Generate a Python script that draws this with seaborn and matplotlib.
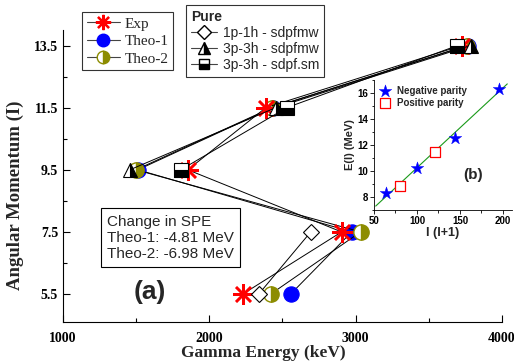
import numpy as np
import matplotlib
matplotlib.use("Agg")
import matplotlib.pyplot as plt
import seaborn as sns
from matplotlib.lines import Line2D
from matplotlib.ticker import MultipleLocator, FixedLocator

# Level spins and gamma energies (keV)
spin = [5.5, 7.5, 9.5, 11.5, 13.5]
exp_e = [2229, 2904, 1853, 2386, 3724]
theo1_e = [2556, 2973, 1512, 2433, 3765]
theo2_e = [2420, 3034, 1498, 2427, 3758]

spin_1p1h = [5.5, 7.5]
pure_1p1h = [2338, 2693]
spin_3p3h = [9.5, 11.5, 13.5]
pure_3p3h_mw = [1457, 2454, 3785]
pure_3p3h_sm = [1805, 2529, 3696]

# inset: E(I) vs I(I+1)
neg_x = [63.75, 99.75, 143.75, 195.75]
neg_y = [8.3, 10.23, 12.55, 16.3]
pos_x = [80.75, 120.75]
pos_y = [8.85, 11.46]
fit_x = [52, 205]
fit_y = [7.3, 16.7]

sns.set_theme(style="ticks")
plt.rcParams["font.family"] = ["Liberation Serif", "DejaVu Serif"]
sans = ["Liberation Sans", "DejaVu Sans"]

fig = plt.figure(figsize=(5.14, 3.62), dpi=100)
ax = fig.add_axes([0.1226, 0.1105, 0.854, 0.8066])

olive = "#8c8c00"
series = [
    (theo1_e, spin, dict(marker="o", ms=11, mfc="blue", mec="blue", mew=0.8)),
    (theo2_e, spin, dict(marker="o", ms=11, mfc=olive, mfcalt="white", fillstyle="right", mec=olive, mew=1.0)),
    (exp_e, spin, dict(marker=(8, 2, 0), ms=15, mec="red", mew=1.8)),
    (pure_1p1h, spin_1p1h, dict(marker="D", ms=8, mfc="white", mec="black", mew=0.8)),
    (pure_3p3h_mw, spin_3p3h, dict(marker="^", ms=10, mfc="black", mfcalt="white", fillstyle="right", mec="black", mew=0.8)),
    (pure_3p3h_sm, spin_3p3h, dict(marker="s", ms=10, mfc="black", mfcalt="white", fillstyle="bottom", mec="black", mew=0.8)),
]
for xs, ys, kw in series:
    sns.lineplot(x=xs, y=ys, ax=ax, sort=False, estimator=None, color="black",
                 linewidth=0.7, markeredgecolor=kw.pop("mec"), markeredgewidth=kw.pop("mew"),
                 markerfacecolor=kw.pop("mfc", "none"), markersize=kw.pop("ms"),
                 markerfacecoloralt=kw.pop("mfcalt", "white"), **kw)

ax.set_xlim(1000, 4000)
ax.set_ylim(4.6, 14.0)
ax.xaxis.set_major_locator(MultipleLocator(1000))
ax.xaxis.set_minor_locator(MultipleLocator(500))
ax.set_yticks([5.5, 7.5, 9.5, 11.5, 13.5])
ax.yaxis.set_minor_locator(FixedLocator([6.5, 8.5, 10.5, 12.5]))
ax.tick_params(which="both", direction="in", width=0.8, colors="black")
ax.tick_params(which="major", length=5, labelsize=10)
ax.tick_params(axis="x", which="major", pad=7)
ax.tick_params(which="minor", length=3)
for lab in ax.get_xticklabels() + ax.get_yticklabels():
    lab.set_fontweight("bold")
ax.spines["top"].set_visible(False)
ax.spines["right"].set_visible(False)
for s in ["left", "bottom"]:
    ax.spines[s].set_color("black")
    ax.spines[s].set_linewidth(0.8)
ax.set_xlabel("Gamma Energy (keV)", fontsize=12.5, fontweight="bold")
ax.set_ylabel("Angular Momentum (I)", fontsize=13.5, fontweight="bold")
ax.xaxis.set_label_coords(0.456, -0.078)
ax.yaxis.set_label_coords(-0.088, 0.435)

ax.text(0.1, 0.209, "Change in SPE\nTheo-1: -4.81 MeV\nTheo-2: -6.98 MeV",
        transform=ax.transAxes, fontsize=11, family=sans,
        linespacing=1.2, va="bottom", ha="left",
        bbox=dict(boxstyle="square,pad=0.4", fc="white", ec="black", lw=0.8))
fig.text(150 / 514, 1 - 292 / 362, "(a)", fontsize=19, fontweight="bold",
         family=sans, ha="center", va="center")

# legends
def handle(**kw):
    return Line2D([], [], color="#444444", linewidth=0.8, **kw)

h1 = [handle(marker=(8, 2, 0), ms=11, mec="red", mew=1.6),
      handle(marker="o", ms=9, mfc="blue", mec="blue"),
      handle(marker="o", ms=9, mfc=olive, mfcalt="white", fillstyle="right", mec=olive)]
leg1 = fig.legend(h1, ["Exp", "Theo-1", "Theo-2"], loc="upper left",
                  bbox_to_anchor=(0.1595, 0.966), frameon=True, fancybox=False,
                  edgecolor="black", handlelength=2.2, handletextpad=0.3,
                  labelspacing=0.25, borderpad=0.3, borderaxespad=0,
                  prop={"family": ["Liberation Serif"], "size": 11})
leg1.get_frame().set_linewidth(0.8)

h2 = [handle(marker="D", ms=7, mfc="white", mec="black"),
      handle(marker="^", ms=8, mfc="black", mfcalt="white", fillstyle="right", mec="black"),
      handle(marker="s", ms=7, mfc="black", mfcalt="white", fillstyle="bottom", mec="black")]
leg2 = fig.legend(h2, ["1p-1h - sdpfmw", "3p-3h - sdpfmw", "3p-3h - sdpf.sm"],
                  loc="upper left", bbox_to_anchor=(0.362, 0.986), frameon=True,
                  fancybox=False, edgecolor="black", handlelength=1.9, handletextpad=0.4,
                  labelspacing=0.15, borderpad=0.35, borderaxespad=0, alignment="left",
                  title="Pure", prop={"family": ["Liberation Sans"], "size": 10},
                  title_fontproperties={"family": ["Liberation Sans"], "size": 10,
                                        "weight": "bold"})
leg2.get_frame().set_linewidth(0.8)

# inset
ins = fig.add_axes([0.7276, 0.42, 0.2677, 0.359])
ins.patch.set_alpha(0)
sns.lineplot(x=fit_x, y=fit_y, ax=ins, color="#1a9a1a", linewidth=0.8)
sns.scatterplot(x=neg_x, y=neg_y, ax=ins, marker="*", s=90, color="blue",
                edgecolor="blue", linewidth=0.3, label="Negative parity", zorder=3)
sns.scatterplot(x=pos_x, y=pos_y, ax=ins, marker="s", s=45, facecolor="white",
                edgecolor="red", linewidth=0.9, label="Positive parity", zorder=3)
ins.set_xlim(50, 210)
ins.set_ylim(7, 17)
ins.xaxis.set_major_locator(MultipleLocator(50))
ins.xaxis.set_minor_locator(MultipleLocator(25))
ins.yaxis.set_major_locator(MultipleLocator(2))
ins.yaxis.set_minor_locator(MultipleLocator(1))
ins.tick_params(which="both", direction="out", width=0.6, colors="black", pad=1)
ins.tick_params(which="major", length=3, labelsize=7)
ins.tick_params(which="minor", length=1.8)
for lab in ins.get_xticklabels() + ins.get_yticklabels():
    lab.set_fontweight("bold")
    lab.set_family(sans)
ins.spines["top"].set_visible(False)
ins.spines["right"].set_visible(False)
for s in ["left", "bottom"]:
    ins.spines[s].set_color("black")
    ins.spines[s].set_linewidth(0.6)
ins.set_xlabel("I (I+1)", fontsize=9, fontweight="bold", family=sans, labelpad=1)
ins.set_ylabel("E(I) (MeV)", fontsize=8, fontweight="bold", family=sans, labelpad=2)
ins.legend(loc="upper left", frameon=False, handletextpad=0.8, labelspacing=0.2,
           borderaxespad=0.2, handlelength=1.0,
           prop={"family": ["Liberation Sans"], "size": 7, "weight": "bold"})
ins.text(0.72, 0.27, "(b)", transform=ins.transAxes, fontsize=11, fontweight="bold",
         family=sans, ha="center", va="center")

fig.savefig("out.png", dpi=100)
